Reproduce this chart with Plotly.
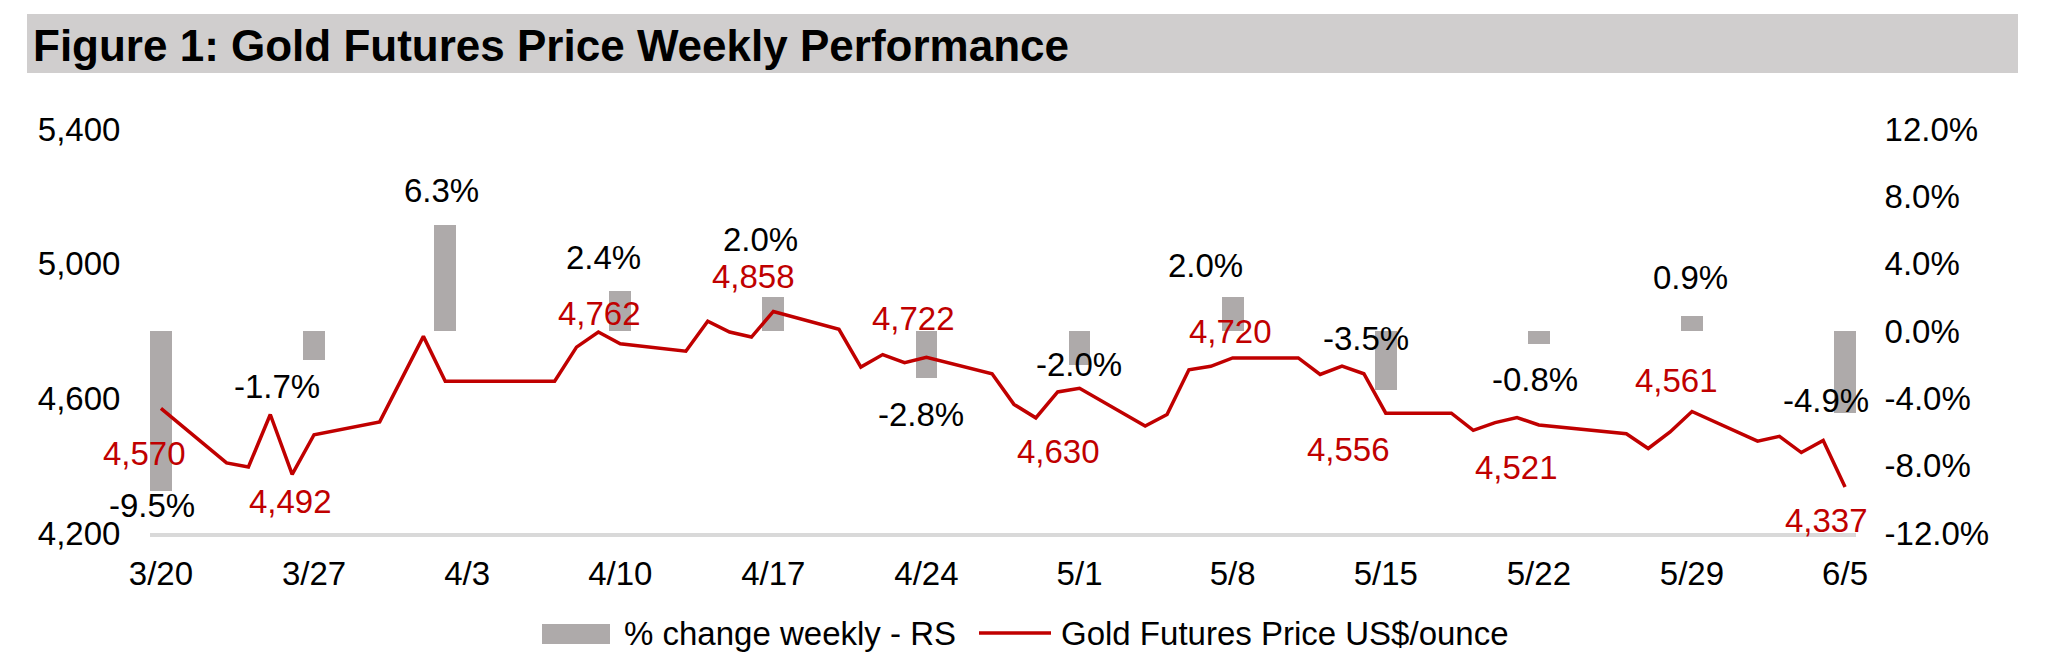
import plotly.graph_objects as go

# ---------------- data ----------------
price_dates = [
    "2026-03-20", "2026-03-23", "2026-03-24", "2026-03-25", "2026-03-26", "2026-03-27",
    "2026-03-30", "2026-04-01", "2026-04-02", "2026-04-07", "2026-04-08", "2026-04-09",
    "2026-04-10", "2026-04-13", "2026-04-14", "2026-04-15", "2026-04-16", "2026-04-17",
    "2026-04-20", "2026-04-21", "2026-04-22", "2026-04-23", "2026-04-24", "2026-04-27",
    "2026-04-28", "2026-04-29", "2026-04-30", "2026-05-01", "2026-05-04", "2026-05-05",
    "2026-05-06", "2026-05-07", "2026-05-08", "2026-05-11", "2026-05-12", "2026-05-13",
    "2026-05-14", "2026-05-15", "2026-05-18", "2026-05-19", "2026-05-20", "2026-05-21",
    "2026-05-22", "2026-05-26", "2026-05-27", "2026-05-28", "2026-05-29", "2026-06-01",
    "2026-06-02", "2026-06-03", "2026-06-04", "2026-06-05",
]
price_values = [
    4570, 4408, 4396, 4552, 4374, 4492,
    4530, 4784, 4651, 4651, 4752, 4797,
    4762, 4740, 4829, 4797, 4782, 4858,
    4805, 4693, 4730, 4706, 4722, 4673,
    4582, 4542, 4619, 4630, 4518, 4552,
    4685, 4695, 4720, 4720, 4671, 4696,
    4673, 4556, 4556, 4505, 4528, 4543,
    4521, 4495, 4451, 4500, 4561, 4473,
    4487, 4439, 4475, 4337,
]

week_dates = [
    "2026-03-20", "2026-03-27", "2026-04-02", "2026-04-10", "2026-04-17", "2026-04-24",
    "2026-05-01", "2026-05-08", "2026-05-15", "2026-05-22", "2026-05-29", "2026-06-05",
]
week_change = [-0.095, -0.017, 0.063, 0.024, 0.020, -0.028,
               -0.020, 0.020, -0.035, -0.008, 0.009, -0.049]

close_dates = [
    "2026-03-20", "2026-03-27", "2026-04-10", "2026-04-17", "2026-04-24", "2026-05-01",
    "2026-05-08", "2026-05-15", "2026-05-22", "2026-05-29", "2026-06-05",
]
close_values = [4570, 4492, 4762, 4858, 4722, 4630, 4720, 4556, 4521, 4561, 4337]

x_tick_dates = [
    "2026-03-20", "2026-03-27", "2026-04-03", "2026-04-10", "2026-04-17", "2026-04-24",
    "2026-05-01", "2026-05-08", "2026-05-15", "2026-05-22", "2026-05-29", "2026-06-05",
]
x_tick_labels = ["3/20", "3/27", "4/3", "4/10", "4/17", "4/24",
                 "5/1", "5/8", "5/15", "5/22", "5/29", "6/5"]
left_ticks = [4200, 4600, 5000, 5400]
right_ticks = [-0.12, -0.08, -0.04, 0.0, 0.04, 0.08, 0.12]

title_text = "Figure 1: Gold Futures Price Weekly Performance"
bar_name = "% change weekly - RS"
line_name = "Gold Futures Price US$/ounce"

# ---------------- label placement (pixel offsets) ----------------
pct_dx = [-9, -37, -4, -17, -13, -5, -1, -27, -20, -4, -1, -19]
pct_dy = [15, 27, -34, -33, -58, 36, 0, -32, -51, 35, -38, -13]
px_dx = [-16, -24, -21, -20, -13, -21, -2, -37, -22, -15, -19]
px_dy = [45, 67, -30, -35, -39, 63, -26, 36, 43, -31, 34]

# ---------------- styling ----------------
W, H = 2048, 666
L, R, T, B = 150, 192, 129, 133
FONT = "Liberation Sans, Arial, Helvetica, sans-serif"
RED = "#c00000"
BAR = "#aeaaaa"
BAND = "#d0cece"
FS = 33


def px_x(p):
    return (p - L) / (W - L - R)


def px_y(p):
    return (H - B - p) / (H - T - B)


fig = go.Figure()

fig.add_trace(go.Bar(
    x=week_dates, y=week_change, name=bar_name,
    width=86400000 * 1.0, marker=dict(color=BAR, line=dict(width=0)),
    yaxis="y", showlegend=False, hoverinfo="skip",
))
fig.add_trace(go.Scatter(
    x=price_dates, y=price_values, name=line_name, mode="lines",
    line=dict(color=RED, width=3.5), yaxis="y2", showlegend=False,
))

annotations = []
for d, v, dx, dy in zip(week_dates, week_change, pct_dx, pct_dy):
    annotations.append(dict(
        x=d, y=v, xref="x", yref="y", text=f"{v * 100:.1f}%", showarrow=False,
        xshift=dx, yshift=-dy, font=dict(family=FONT, size=FS, color="#000000"),
        xanchor="center", yanchor="middle",
    ))
for d, v, dx, dy in zip(close_dates, close_values, px_dx, px_dy):
    annotations.append(dict(
        x=d, y=v, xref="x", yref="y2", text=f"{v:,.0f}", showarrow=False,
        xshift=dx, yshift=-dy, font=dict(family=FONT, size=FS, color=RED),
        xanchor="center", yanchor="middle",
    ))

# title
annotations.append(dict(
    x=px_x(31), y=px_y(45), xref="paper", yref="paper", text=f"<b>{title_text}</b>",
    showarrow=False, xanchor="left", yanchor="middle",
    font=dict(family=FONT, size=44, color="#000000"),
))
# legend texts
annotations.append(dict(
    x=px_x(622), y=px_y(633), xref="paper", yref="paper", text=bar_name,
    showarrow=False, xanchor="left", yanchor="middle",
    font=dict(family=FONT, size=FS, color="#000000"),
))
annotations.append(dict(
    x=px_x(1059), y=px_y(633), xref="paper", yref="paper", text=line_name,
    showarrow=False, xanchor="left", yanchor="middle",
    font=dict(family=FONT, size=FS, color="#000000"),
))

shapes = [
    dict(type="rect", xref="paper", yref="paper", x0=px_x(27), x1=px_x(2018),
         y0=px_y(73), y1=px_y(14), fillcolor=BAND, line=dict(width=0), layer="below"),
    dict(type="rect", xref="paper", yref="paper", x0=px_x(542), x1=px_x(610),
         y0=px_y(644), y1=px_y(624), fillcolor=BAR, line=dict(width=0)),
    dict(type="line", xref="paper", yref="paper", x0=px_x(979), x1=px_x(1051),
         y0=px_y(633), y1=px_y(633), line=dict(color=RED, width=3.5)),
]

fig.update_layout(
    width=W, height=H,
    margin=dict(l=L, r=R, t=T, b=B, pad=0),
    paper_bgcolor="white", plot_bgcolor="white",
    font=dict(family=FONT, size=FS, color="#000000"),
    showlegend=False, bargap=0,
    xaxis=dict(
        type="date", range=["2026-03-19 12:00", "2026-06-05 12:00"],
        tickvals=x_tick_dates, ticktext=x_tick_labels,
        showgrid=False, zeroline=False, showline=True, linecolor="#d9d9d9", linewidth=4,
        ticks="outside", ticklen=0, tickcolor="white", ticklabelstandoff=8,
        tickfont=dict(family=FONT, size=FS, color="#000000"),
    ),
    yaxis=dict(
        side="right", range=[-0.12, 0.12], tickvals=right_ticks,
        ticktext=[f"{v * 100:.1f}%" for v in right_ticks],
        showgrid=False, zeroline=False, showline=False,
        ticks="outside", ticklen=0, tickcolor="white", ticklabelstandoff=21,
        tickfont=dict(family=FONT, size=FS, color="#000000"),
    ),
    yaxis2=dict(
        side="left", overlaying="y", range=[4200, 5400], tickvals=left_ticks,
        ticktext=[f"{v:,}" for v in left_ticks],
        showgrid=False, zeroline=False, showline=False,
        ticks="outside", ticklen=0, tickcolor="white", ticklabelstandoff=22,
        tickfont=dict(family=FONT, size=FS, color="#000000"),
    ),
    annotations=annotations,
    shapes=shapes,
)

fig.write_html("out.html")
